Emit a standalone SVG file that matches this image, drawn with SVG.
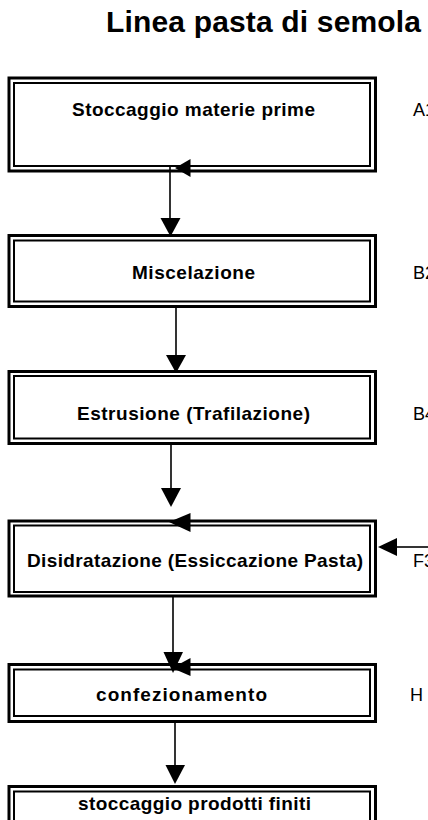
<svg xmlns="http://www.w3.org/2000/svg" width="428" height="820" viewBox="0 0 428 820">
  <style>
    .outer { fill: #fff; stroke: #000; stroke-width: 3; }
    .inner { fill: none; stroke: #000; stroke-width: 2; }
    .lbl { font-family: "Liberation Sans", Arial, sans-serif; font-weight: bold; font-size: 19px; fill: #000; }
    .side { font-family: "Liberation Sans", Arial, sans-serif; font-size: 18px; fill: #000; }
    .title { font-family: "Liberation Sans", Arial, sans-serif; font-weight: bold; font-size: 30px; fill: #000; }
    .line { stroke: #000; stroke-width: 1.6; fill: none; }
    .head { fill: #000; }
  </style>
  <rect width="428" height="820" fill="#fff"/>

  <text class="title" x="106" y="32" textLength="315" lengthAdjust="spacing">Linea pasta di semola</text>

  <g id="n1">
    <rect class="outer" x="9" y="78" width="366.5" height="93"/>
    <rect class="inner" x="14" y="83" width="356" height="83"/>
    <text class="lbl" x="72" y="116" textLength="243" lengthAdjust="spacing">Stoccaggio materie prime</text>
  </g>
  <g id="n2">
    <rect class="outer" x="9" y="235.5" width="366.5" height="71"/>
    <rect class="inner" x="14" y="240.5" width="356" height="61"/>
    <text class="lbl" x="132" y="279" textLength="123" lengthAdjust="spacing">Miscelazione</text>
  </g>
  <g id="n3">
    <rect class="outer" x="9" y="371.5" width="366.5" height="72"/>
    <rect class="inner" x="14" y="376" width="356" height="62.5"/>
    <text class="lbl" x="77" y="420" textLength="233" lengthAdjust="spacing">Estrusione (Trafilazione)</text>
  </g>
  <g id="n4">
    <rect class="outer" x="9" y="521" width="366.5" height="75"/>
    <rect class="inner" x="14" y="525.5" width="356" height="66.5"/>
    <text class="lbl" x="27" y="567" textLength="336" lengthAdjust="spacing">Disidratazione (Essiccazione Pasta)</text>
  </g>
  <g id="n5">
    <rect class="outer" x="9" y="664.5" width="366.5" height="57"/>
    <rect class="inner" x="14" y="669.5" width="356" height="46.5"/>
    <text class="lbl" x="96" y="701" textLength="171" lengthAdjust="spacing">confezionamento</text>
  </g>
  <g id="n6">
    <rect class="outer" x="9" y="786.5" width="366.5" height="60"/>
    <rect class="inner" x="14" y="791.5" width="356" height="50"/>
    <text class="lbl" x="78" y="810" textLength="233" lengthAdjust="spacing">stoccaggio prodotti finiti</text>
  </g>

  <!-- step codes, running past the right edge -->
  <g id="codes">
    <text class="side" x="413" y="116">A1</text>
    <text class="side" x="413" y="279">B2</text>
    <text class="side" x="413" y="420">B4</text>
    <text class="side" x="413" y="567">F3</text>
    <text class="side" x="410" y="701">H</text>
  </g>

  <g id="connectors">
    <!-- main flow -->
    <line class="line" x1="170" y1="165" x2="170" y2="219"/>
    <polygon class="head" points="160.5,218 180.5,218 170.5,236.5"/>
    <line class="line" x1="176" y1="307" x2="176" y2="356"/>
    <polygon class="head" points="166,355 186,355 176,373"/>
    <line class="line" x1="171" y1="444" x2="171" y2="489"/>
    <polygon class="head" points="161,488 181,488 171,507"/>
    <line class="line" x1="173" y1="597" x2="173" y2="653"/>
    <polygon class="head" points="163.5,652 183,652 173,673"/>
    <line class="line" x1="175" y1="722" x2="175" y2="766"/>
    <polygon class="head" points="165.5,765 185,765 175,784"/>
    <!-- incoming arrows -->
    <polygon class="head" points="175,168 190.5,159 190.5,177"/>
    <polygon class="head" points="169,522 190.5,513 190.5,532"/>
    <polygon class="head" points="172,668 190.5,658 190.5,676"/>
    <line class="line" x1="396" y1="547" x2="428" y2="547"/>
    <polygon class="head" points="378,547 397,538 397,556"/>
  </g>
</svg>
